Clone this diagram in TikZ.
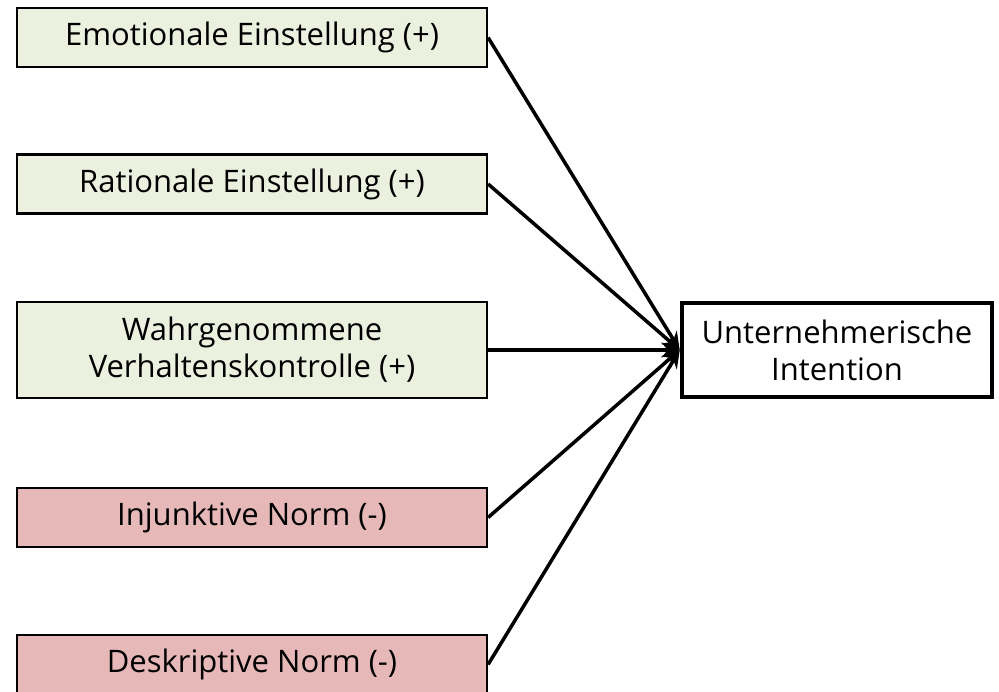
\documentclass[tikz,border=0pt]{standalone}
\usepackage{fontspec}
\setmainfont{Open Sans}
\usetikzlibrary{arrows.meta}
\definecolor{posgreen}{HTML}{EBF1DE}
\definecolor{negred}{HTML}{E6B9B8}
\begin{document}
\begin{tikzpicture}[x=1pt,y=-1pt]
  \tikzstyle{every node}=[font=\fontsize{31}{37}\selectfont,align=center,inner sep=0pt]
  \tikzstyle{factor}=[draw,line width=2.2pt,minimum width=470pt,minimum height=59pt]
  \tikzstyle{posfactor}=[factor,fill=posgreen]
  \tikzstyle{negfactor}=[factor,fill=negred]
  \tikzstyle{effect}=[-{Stealth[length=18pt,width=15pt]},line width=3.5pt]
  \clip (0,0) rectangle (999,691);
 \node[posfactor] (emo) at (252,37.5) {Emotionale Einstellung (+)};
 \node[posfactor] (rat) at (252,184) {Rationale Einstellung (+)};
 \node[posfactor,minimum height=96pt] (pbc) at (252,350) {Wahrgenommene\\Verhaltenskontrolle (+)};
 \node[negfactor] (inj) at (252,517.5) {Injunktive Norm (-)};
 \node[negfactor] (desk) at (252,664.5) {Deskriptive Norm (-)};
 \node[draw,line width=4.5pt,fill=white,minimum width=310pt,minimum height=94pt] (int) at (837,350) {Unternehmerische\\Intention};

 \draw [effect] (emo.east) -- (int.west);
 \draw [effect] (rat.east) -- (int.west);
 \draw [effect] (pbc.east) -- (int.west);
 \draw [effect] (inj.east) -- (int.west);
 \draw [effect] (desk.east) -- (int.west);

\end{tikzpicture}
\end{document}
